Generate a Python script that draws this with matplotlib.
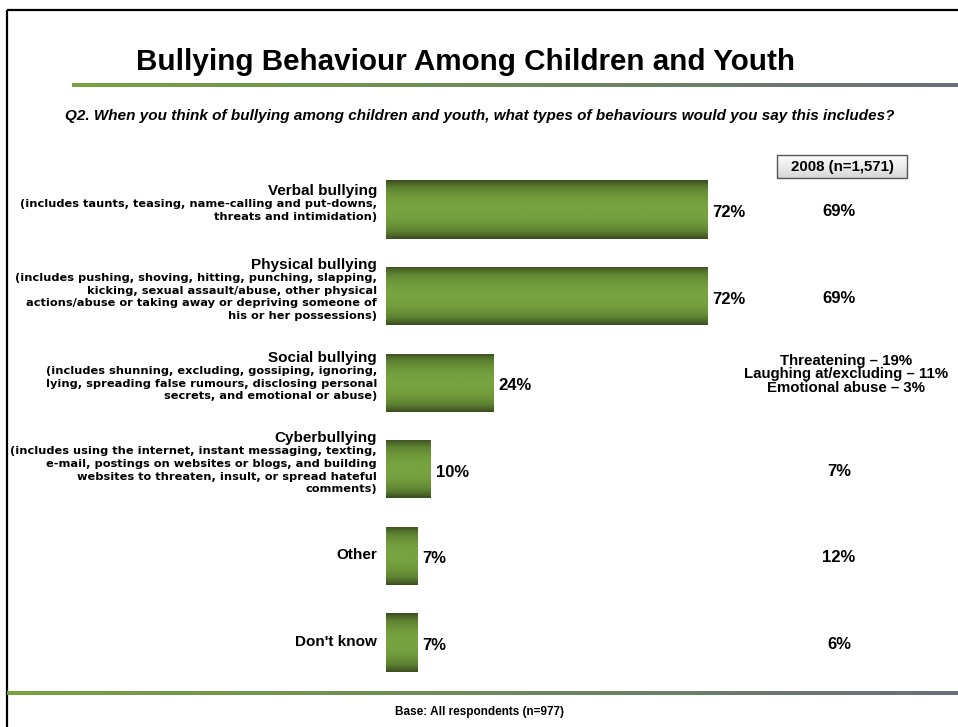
import numpy as np
import matplotlib.pyplot as plt
import matplotlib.transforms as mtransforms
from matplotlib.colors import LinearSegmentedColormap
from matplotlib.patches import Rectangle

plt.rcParams['font.family'] = ['Liberation Sans', 'DejaVu Sans']
plt.rcParams['font.weight'] = 'bold'

title = 'Bullying Behaviour Among Children and Youth'
question = ('Q2. When you think of bullying among children and youth, '
            'what types of behaviours would you say this includes?')
base_note = 'Base: All respondents (n=977)'

categories = ['Verbal bullying', 'Physical bullying', 'Social bullying',
              'Cyberbullying', 'Other', "Don't know"]
details = [
    ['(includes taunts, teasing, name-calling and put-downs,',
     'threats and intimidation)'],
    ['(includes pushing, shoving, hitting, punching, slapping,',
     'kicking, sexual assault/abuse, other physical',
     'actions/abuse or taking away or depriving someone of',
     'his or her possessions)'],
    ['(includes shunning, excluding, gossiping, ignoring,',
     'lying, spreading false rumours, disclosing personal',
     'secrets, and emotional or abuse)'],
    ['(includes using the internet, instant messaging, texting,',
     'e-mail, postings on websites or blogs, and building',
     'websites to threaten, insult, or spread hateful',
     'comments)'],
    [],
    [],
]
values = [72, 72, 24, 10, 7, 7]

header_2008 = '2008 (n=1,571)'
values_2008 = ['69%', '69%', None, '7%', '12%', '6%']
social_2008 = ['Threatening \u2013 19%', 'Laughing at/excluding \u2013 11%',
               'Emotional abuse \u2013 3%']

W, H = 958, 727
fig = plt.figure(figsize=(W / 100, H / 100), dpi=100)

# page layer in pixel coordinates
bg = fig.add_axes([0, 0, 1, 1])
bg.set_xlim(0, W)
bg.set_ylim(H, 0)
bg.axis('off')

# frame
bg.plot([7, 7], [10, H], color='black', lw=1.6, solid_capstyle='butt')
bg.plot([7, W], [10, 10], color='black', lw=1.6, solid_capstyle='butt')

rule_cmap = LinearSegmentedColormap.from_list('rule', ['#78a33f', '#6e8a5a', '#6b6e7d'])
grad = np.linspace(0, 1, 256).reshape(1, -1)
bg.imshow(grad, cmap=rule_cmap, aspect='auto', extent=[72, W, 87, 83], zorder=2)
bg.imshow(grad, cmap=rule_cmap, aspect='auto', extent=[7, W, 695, 691], zorder=2)

bg.text(136, 62, title, fontsize=21.3, ha='left', va='center', color='black')
bg.text(480, 116, question, fontsize=11, style='italic', ha='center', va='center')
bg.text(480, 712, base_note, fontsize=8.5, ha='center', va='center')

# 2008 header box
box = Rectangle((777, 155), 130, 23, facecolor='none', edgecolor='#555555', lw=1.0, zorder=4)
bg.add_patch(box)
box_cmap = LinearSegmentedColormap.from_list('box', ['#fbfbfb', '#ececec', '#d6d6d6'])
im = bg.imshow(np.linspace(0, 1, 64).reshape(-1, 1), cmap=box_cmap, aspect='auto',
               extent=[777, 907, 178, 155], zorder=3)
im.set_clip_path(box)
bg.text(842, 167, header_2008, fontsize=10.8, ha='center', va='center', zorder=5)

# bars
ax = fig.add_axes([386 / W, 1 - 685.8 / H, 446.7 / W, (685.8 - 166.2) / H])
ax.set_xlim(0, 100)
ax.set_ylim(len(categories) - 0.5, -0.5)
ax.axis('off')
ax.patch.set_alpha(0)

bar_h = 0.67
ypos = np.arange(len(categories))
bars = ax.barh(ypos, values, height=bar_h, color='#76a03f', edgecolor='none')

t = np.linspace(-1, 1, 128)
shade = (1 - np.abs(t) ** 2.2).reshape(-1, 1)
bar_cmap = LinearSegmentedColormap.from_list('bar', ['#3a4d1f', '#5e8231', '#78a340'])
for rect in bars:
    x0, y0 = rect.get_x(), rect.get_y()
    w, h = rect.get_width(), rect.get_height()
    g = ax.imshow(shade, cmap=bar_cmap, aspect='auto',
                  extent=[x0, x0 + w, y0 + h, y0], zorder=3)
    g.set_clip_path(rect)

for i, v in enumerate(values):
    ax.annotate(f'{v}%', xy=(v, i), xytext=(5, -3), textcoords='offset pixels',
                fontsize=12, ha='left', va='center')

# labels to the left of the bars, x in page pixels, y on the bar scale
blend = mtransforms.blended_transform_factory(bg.transData, ax.transData)
line_gap = 12.6
for i, (name, lines) in enumerate(zip(categories, details)):
    n = len(lines)
    if n:
        name_dy = -5.5 - (13 + (n - 1) * line_gap) / 2
    else:
        name_dy = -1
    ax.annotate(name, xy=(377, i), xycoords=blend, xytext=(0, -name_dy),
                textcoords='offset pixels', fontsize=11, ha='right', va='center')
    for k, line in enumerate(lines):
        dy = name_dy + 13 + k * line_gap
        ax.annotate(line, xy=(377, i), xycoords=blend, xytext=(0, -dy),
                    textcoords='offset pixels', fontsize=8.2, family='DejaVu Sans',
                    ha='right', va='center')

# 2008 comparison column
for i, v in enumerate(values_2008):
    if v is not None:
        ax.annotate(v, xy=(839, i), xycoords=blend, xytext=(0, -2),
                    textcoords='offset pixels', fontsize=12, ha='center', va='center')
for k, line in enumerate(social_2008):
    ax.annotate(line, xy=(846, 2), xycoords=blend, xytext=(0, -(-22 + k * 13.5)),
                textcoords='offset pixels', fontsize=10.8, ha='center', va='center')

fig.savefig('out.png', dpi=100)
